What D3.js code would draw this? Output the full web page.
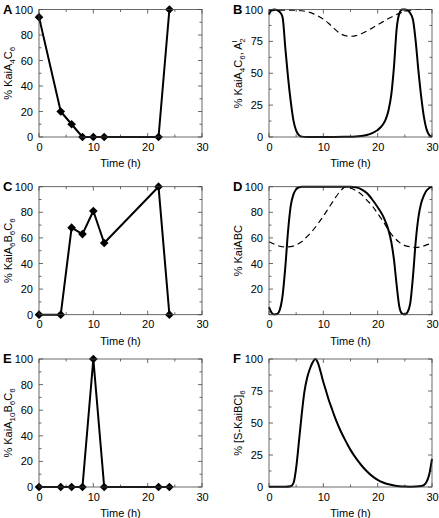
<!DOCTYPE html>
<html><head><meta charset="utf-8">
<script src="https://cdn.jsdelivr.net/npm/d3@7"></script>
<style>body{margin:0;background:#fff}svg{display:block}text{font-family:"Liberation Sans",Arial,sans-serif}</style>
</head><body><div id="chart"></div>
<script>
// ---- data ----
const expTimes = [0, 4, 6, 8, 10, 12, 22, 24];
const kaiA4C6 = [94, 20, 10, 0, 0, 0, 0, 100];
const kaiA6B6C6 = [0, 0, 68, 63, 81, 56, 100, 0];
const kaiA10B6C6 = [0, 0, 0, 0, 100, 0, 0, 0];

const bTimes = [0,0.5,1,1.5,2,2.5,3,3.5,4,4.5,5,5.5,6,7,8,10,12,14,15,16,17,18,19,20,21,21.5,22,22.5,23,23.5,24,24.5,25,25.5,26,26.5,27,27.5,28,28.5,29,29.5,30];
const bSolid = [96,99.5,100,99.5,98,94,70,47,28,13,5,1.5,0.3,0,0,0,0,0.1,0.2,0.3,0.7,1.5,3,5.5,10,14,21,33,55,85,97,100,100,99.5,97,92,75,52,32,16,6,1.5,0.3];
const bDashTimes = [0,2,4,6,8,9,10,11,12,13,14,15,16,17,18,19,20,21,22,23,24,25,26,27,28,30];
const bDashed = [99,99.5,99.5,99,97,95,92.5,89,85,81.5,79.5,79,79.5,81,83,85.5,88,90.5,93,95,97,98.5,99.5,100,100,100];

const dTimes = [0,0.5,1,1.5,2,2.5,3,3.5,4,4.5,5,5.5,6,8,10,12,14,15,16,17,18,19,20,21,22,22.5,23,23.5,24,24.5,25,25.5,26,26.5,27,27.5,28,28.5,29,29.5,30];
const dSolid = [6,1.5,0.2,0.5,4,15,37,65,85,94,98,99.5,100,100,100,100,100,100,99.5,98,95,90,84,77,66,57,43,23,6,0.8,0.2,2,9,30,57,76,87,93,97,99,100];
const dDashTimes = [0,1,2,3,4,5,6,7,8,9,10,11,12,13,13.7,14,15,16,17,18,19,20,21,22,23,24,25,26,27,28,29,30];
const dDashed = [57,55,53.5,53,53.2,54.5,57,61,65.5,71,77,83.5,90,96,99,100,99,97,94,89.5,85,79,73,66,60.5,56.5,54,53,52.5,53,54.5,56];

const fTimes = [0,3,4,4.5,5,5.5,6,6.5,7,7.5,8,8.5,9,9.5,10,10.5,11,11.5,12,12.5,13,13.5,14,14.5,15,16,17,18,19,20,21,22,23,24,25,26,27,28,28.5,29,29.5,30];
const fSolid = [0.2,0.2,0.6,3,15,35,56,74,85,92,97,100,97,90,82,75,68,62,56,50.5,45.5,41,36.8,32.8,29,22.5,17,12.3,8.5,5.6,3.5,2.1,1.2,0.6,0.3,0.2,0.3,0.7,1.5,4,10,22];

const xTicks = [0, 10, 20, 30];
const yTicks100 = [0, 20, 40, 60, 80, 100];
const yTicksQuarter = [0, 25, 50, 75, 100];
const yTicksD = [20, 40, 60, 80, 100];

// ---- layout ----
const W = 439, H = 518;
const svg = d3.select("#chart").append("svg").attr("width", W).attr("height", H);

// label parts: [text, kind] kind: n normal, s subscript, p superscript
const panels = [
  {letter:"A", x:39, y:9.5, w:163, h:127.5, yt:yTicks100, ytAll:yTicks100, minorY:10,
   label:[["% KaiA","n"],["4","s"],["C","n"],["6","s"]],
   series:[{t:expTimes, v:kaiA4C6, markers:true}]},
  {letter:"B", x:269, y:9.5, w:163, h:127.5, yt:yTicksQuarter, ytAll:yTicksQuarter, minorY:12.5,
   label:[["% KaiA","n"],["4","s"],["C","n"],["6","s"],[", A","n"],["I","p"],["2","s2"]],
   series:[{t:bTimes, v:bSolid}, {t:bDashTimes, v:bDashed, dash:true}]},
  {letter:"C", x:39, y:186.7, w:163, h:128, yt:yTicks100, ytAll:yTicks100, minorY:10,
   label:[["% KaiA","n"],["6","s"],["B","n"],["6","s"],["C","n"],["6","s"]],
   series:[{t:expTimes, v:kaiA6B6C6, markers:true}]},
  {letter:"D", x:269, y:186.7, w:163, h:128, yt:yTicksD, ytAll:[0].concat(yTicksD), minorY:10,
   label:[["% KaiABC","n"]],
   series:[{t:dTimes, v:dSolid}, {t:dDashTimes, v:dDashed, dash:true}]},
  {letter:"E", x:39, y:359, w:163, h:128, yt:yTicks100, ytAll:yTicks100, minorY:10,
   label:[["% KaiA","n"],["10","s"],["B","n"],["6","s"],["C","n"],["6","s"]],
   series:[{t:expTimes, v:kaiA10B6C6, markers:true}]},
  {letter:"F", x:269, y:359, w:163, h:128, yt:yTicksQuarter, ytAll:yTicksQuarter, minorY:12.5,
   label:[["% [S-KaiBC]","n"],["6","s"]],
   series:[{t:fTimes, v:fSolid}]}
];

const frameColor = "#444";
panels.forEach(p => {
  const g = svg.append("g").attr("transform", `translate(${p.x},${p.y})`);
  const x = d3.scaleLinear().domain([0, 30]).range([0, p.w]);
  const y = d3.scaleLinear().domain([0, 100]).range([p.h, 0]);

  const minorX = d3.range(5, 30, 10);
  const minorYv = d3.range(p.minorY, 100, p.minorY * 2);
  const tickG = g.append("g").attr("stroke", frameColor).attr("stroke-width", 0.8);
  const maj = 4, mn = 2.5;
  xTicks.forEach(t => {
    tickG.append("line").attr("x1", x(t)).attr("x2", x(t)).attr("y1", p.h).attr("y2", p.h - maj);
    tickG.append("line").attr("x1", x(t)).attr("x2", x(t)).attr("y1", 0).attr("y2", maj);
  });
  minorX.forEach(t => {
    tickG.append("line").attr("x1", x(t)).attr("x2", x(t)).attr("y1", p.h).attr("y2", p.h - mn);
    tickG.append("line").attr("x1", x(t)).attr("x2", x(t)).attr("y1", 0).attr("y2", mn);
  });
  p.ytAll.forEach(v => {
    tickG.append("line").attr("x1", 0).attr("x2", maj).attr("y1", y(v)).attr("y2", y(v));
    tickG.append("line").attr("x1", p.w).attr("x2", p.w - maj).attr("y1", y(v)).attr("y2", y(v));
  });
  minorYv.forEach(v => {
    tickG.append("line").attr("x1", 0).attr("x2", mn).attr("y1", y(v)).attr("y2", y(v));
    tickG.append("line").attr("x1", p.w).attr("x2", p.w - mn).attr("y1", y(v)).attr("y2", y(v));
  });

  const xa = g.append("g").attr("transform", `translate(0,${p.h})`)
    .call(d3.axisBottom(x).tickValues(xTicks).tickSize(0).tickPadding(6).tickFormat(d3.format("d")));
  xa.select(".domain").remove();
  xa.selectAll("text").attr("font-size", 11).attr("fill", "#000").attr("font-family", '"Liberation Sans",Arial,sans-serif');
  const ya = g.append("g")
    .call(d3.axisLeft(y).tickValues(p.yt).tickSize(0).tickPadding(6).tickFormat(d3.format("d")));
  ya.select(".domain").remove();
  ya.selectAll("text").attr("font-size", 11).attr("fill", "#000").attr("font-family", '"Liberation Sans",Arial,sans-serif');

  const clipId = "clip" + p.letter;
  g.append("clipPath").attr("id", clipId).append("rect").attr("x", -1).attr("y", -2).attr("width", p.w + 2).attr("height", p.h + 3);
  p.series.forEach(s => {
    const pts = s.t.map((t, i) => [t, s.v[i]]);
    const line = d3.line().x(d => x(d[0])).y(d => y(d[1]))
      .curve(s.markers ? d3.curveLinear : d3.curveMonotoneX);
    g.append("path").datum(pts).attr("d", line).attr("fill", "none")
      .attr("stroke", "#000").attr("stroke-width", s.dash ? 1.2 : 2)
      .attr("stroke-dasharray", s.dash ? "6,4" : null)
      .attr("stroke-linejoin", "round")
      .attr("clip-path", s.markers ? null : `url(#${clipId})`);
    if (s.markers) {
      g.selectAll(null).data(pts).enter().append("path")
        .attr("d", d3.symbol().type(d3.symbolDiamond2).size(48))
        .attr("transform", d => `translate(${x(d[0])},${y(d[1])})`)
        .attr("fill", "#000");
    }
  });

  g.append("rect").attr("width", p.w).attr("height", p.h).attr("fill", "none")
    .attr("stroke", frameColor).attr("stroke-width", 0.8);

  g.append("text").attr("x", p.w / 2).attr("y", p.h + 30).attr("text-anchor", "middle")
    .attr("font-size", 11).text("Time (h)");

  // y label with sub/superscripts
  const yl = g.append("text").attr("transform", `translate(-27,${p.h / 2}) rotate(-90)`)
    .attr("text-anchor", "middle").attr("font-size", 11);
  let cur = 0; // current baseline offset
  p.label.forEach(([txt, kind]) => {
    let target = 0, fs = 11, dx = 0;
    if (kind === "s") { target = 3; fs = 8; }
    else if (kind === "p") { target = -5; fs = 8; }
    else if (kind === "s2") { target = 3; fs = 8; dx = -2.5; }
    const ts = yl.append("tspan").attr("font-size", fs).attr("dy", target - cur).text(txt);
    if (dx) ts.attr("dx", dx);
    cur = target;
  });
  if (cur !== 0) yl.append("tspan").attr("dy", -cur).text("");

  g.append("text").attr("x", -36).attr("y", 4).attr("font-size", 13).attr("font-weight", "bold").text(p.letter);
});
</script></body></html>
